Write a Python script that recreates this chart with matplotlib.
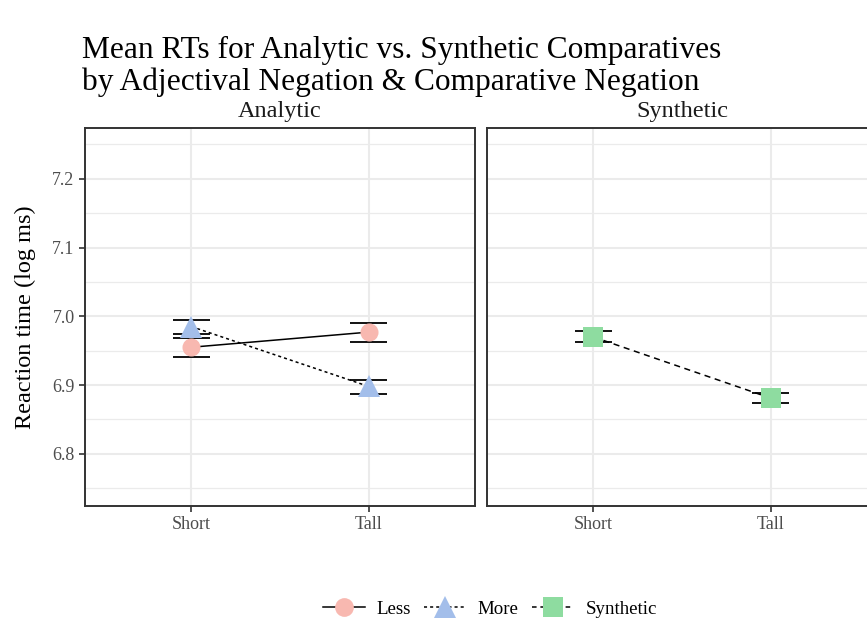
import matplotlib
matplotlib.use("Agg")
import matplotlib.pyplot as plt
from matplotlib.lines import Line2D
import numpy as np

plt.rcParams['font.family'] = ['Liberation Serif', 'DejaVu Serif']

# ---- data ----
heights = ["Short", "Tall"]
less_mean = [6.955, 6.977]
less_lo = [6.941, 6.963]
less_hi = [6.968, 6.990]
more_mean = [6.985, 6.898]
more_lo = [6.974, 6.887]
more_hi = [6.994, 6.907]
syn_mean = [6.970, 6.881]
syn_lo = [6.962, 6.874]
syn_hi = [6.978, 6.889]
yticks = [6.8, 6.9, 7.0, 7.1, 7.2]
panels = ["Analytic", "Synthetic"]

col_less = "#F8B8B0"
col_more = "#A3BEEA"
col_syn = "#8EDCA0"

W, H = 867, 620
fig = plt.figure(figsize=(W/100, H/100), dpi=100)

def px(x0, y0, x1, y1):
    return [x0/W, 1 - y1/H, (x1-x0)/W, (y1-y0)/H]

ax1 = fig.add_axes(px(85, 128, 475, 506))
ax2 = fig.add_axes(px(487, 128, 877, 506))

xs = np.arange(len(heights))

def style(ax, title, show_y):
    ax.set_xlim(-0.6, 1.6)
    ax.set_ylim(6.724, 7.274)
    ax.set_xticks(xs)
    ax.set_xticklabels(heights)
    ax.set_yticks(yticks)
    ax.set_yticks([6.75, 6.85, 6.95, 7.05, 7.15, 7.25], minor=True)
    ax.grid(True, which='major', color='#EBEBEB', linewidth=1.5, zorder=0)
    ax.grid(True, which='minor', axis='y', color='#EBEBEB', linewidth=0.9, zorder=0)
    ax.set_axisbelow(True)
    for s in ax.spines.values():
        s.set_color('#333333')
        s.set_linewidth(1.4)
    ax.tick_params(axis='both', which='major', colors='#333333', length=4, width=1.2,
                   labelcolor='#4D4D4D', labelsize=13)
    ax.tick_params(axis='y', which='minor', length=0)
    if show_y:
        ax.set_yticklabels([f"{v:.1f}" for v in yticks])
    else:
        ax.tick_params(axis='y', which='both', left=False, labelleft=False)
    ax.text(0.5, 1.015, title, transform=ax.transAxes, ha='center', va='bottom',
            fontsize=17.5, color='#1A1A1A')

style(ax1, panels[0], True)
style(ax2, panels[1], False)

def series(ax, mean, lo, hi, color, marker, ls, ms):
    ax.plot(xs, mean, color='black', linestyle=ls, linewidth=1.1, zorder=3)
    for x, l, h in zip(xs, lo, hi):
        ax.plot([x-0.105, x+0.105], [l, l], color='black', linewidth=1.3, zorder=3, solid_capstyle='butt')
        ax.plot([x-0.105, x+0.105], [h, h], color='black', linewidth=1.3, zorder=3, solid_capstyle='butt')
    ax.plot(xs, mean, linestyle='none', marker=marker, markersize=ms, color=color,
            markeredgewidth=0, zorder=4)

series(ax1, less_mean, less_lo, less_hi, col_less, 'o', '-', 13)
series(ax1, more_mean, more_lo, more_hi, col_more, '^', (0, (2.0, 2.0)), 16.5)
series(ax2, syn_mean, syn_lo, syn_hi, col_syn, 's', (0, (4, 3)), 13.7)

ax1.set_ylabel("Reaction time (log ms)", fontsize=17.5, color='black')
ax1.yaxis.set_label_coords((36 - 85) / 390, 0.5)

fig.text(82/W, 1 - 36/H, "Mean RTs for Analytic vs. Synthetic Comparatives\nby Adjectival Negation & Comparative Negation",
         ha='left', va='top', fontsize=22.6, linespacing=1.1, color='black')

handles = [
    Line2D([0], [0], color='black', linestyle='-', linewidth=1.1, marker='o',
           markerfacecolor=col_less, markeredgewidth=0, markersize=13.5),
    Line2D([0], [0], color='black', linestyle=(0, (2.0, 2.0)), linewidth=1.1, marker='^',
           markerfacecolor=col_more, markeredgewidth=0, markersize=16.5),
    Line2D([0], [0], color='black', linestyle=(0, (3, 2.5)), linewidth=1.1, marker='s',
           markerfacecolor=col_syn, markeredgewidth=0, markersize=13.7),
]
fig.legend(handles, ["Less", "More", "Synthetic"], loc='center', bbox_to_anchor=(490/W, 1 - 609/H),
           ncol=3, frameon=False, fontsize=13.6, handlelength=2.2, columnspacing=0.7,
           handletextpad=0.63)

fig.savefig("out.png", dpi=100)
